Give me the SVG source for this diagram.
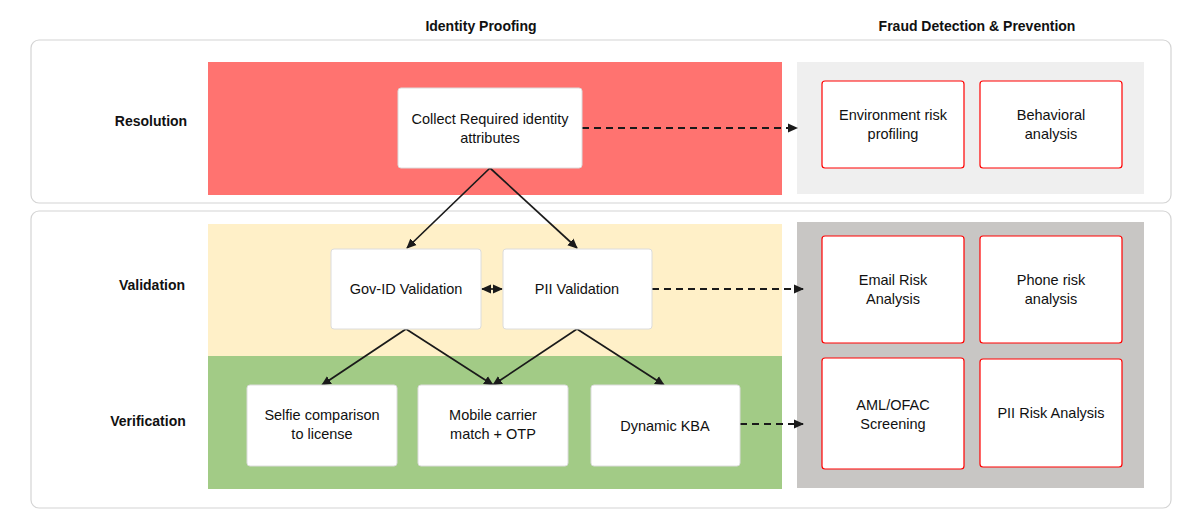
<svg xmlns="http://www.w3.org/2000/svg" width="1185" height="514" viewBox="0 0 1185 514">
<style>
  text { font-family: "Liberation Sans", Arial, sans-serif; font-size: 14.5px; fill: #111; text-anchor: middle; }
  .hdr { font-weight: bold; font-size: 14px; }
  .panel { fill: #fff; stroke: #d4d4d4; stroke-width: 1.2; }
  .node { fill: #fff; stroke: #dcdcdc; stroke-width: 1; }
  .risk { fill: #fff; stroke: #ff0000; stroke-width: 1.2; }
  .solid { fill: none; stroke: #1a1a1a; stroke-width: 1.7; }
  .dash { fill: none; stroke: #1a1a1a; stroke-width: 1.9; stroke-dasharray: 7 5; }
</style>
<defs>
  <marker id="ah" viewBox="0 0 10 10" refX="9" refY="5" markerWidth="10" markerHeight="10" markerUnits="userSpaceOnUse" orient="auto-start-reverse">
    <path d="M0,0.5 L10,5 L0,9.5 Z" fill="#1a1a1a"/>
  </marker>
</defs>

<g id="headers">
  <text class="hdr" x="481" y="31">Identity Proofing</text>
  <text class="hdr" x="977" y="31">Fraud Detection &amp; Prevention</text>
</g>

<g id="panels">
  <rect class="panel" x="31" y="40" width="1140" height="163" rx="8"/>
  <rect class="panel" x="31" y="211" width="1140" height="297" rx="8"/>
  <rect x="208" y="62" width="574" height="133" fill="#ff7370"/>
  <rect x="797" y="62" width="347" height="132" fill="#efefef"/>
  <rect x="208" y="224" width="574" height="132" fill="#fff0c8"/>
  <rect x="208" y="356" width="574" height="133" fill="#a2cb86"/>
  <rect x="797" y="222" width="347" height="266" fill="#c8c6c4"/>
</g>

<g id="row-labels">
  <text class="hdr" x="151" y="126">Resolution</text>
  <text class="hdr" x="152" y="290">Validation</text>
  <text class="hdr" x="148" y="426">Verification</text>
</g>

<g id="connectors">
  <line class="solid" x1="490" y1="168" x2="407" y2="248" marker-end="url(#ah)"/>
  <line class="solid" x1="490" y1="168" x2="577" y2="248" marker-end="url(#ah)"/>
  <line class="solid" x1="406" y1="329" x2="322" y2="385" marker-end="url(#ah)"/>
  <line class="solid" x1="406" y1="329" x2="493" y2="385" marker-end="url(#ah)"/>
  <line class="solid" x1="577" y1="329" x2="493" y2="385" marker-end="url(#ah)"/>
  <line class="solid" x1="577" y1="329" x2="664" y2="385" marker-end="url(#ah)"/>
  <line class="solid" x1="482" y1="289" x2="502" y2="289" marker-start="url(#ah)" marker-end="url(#ah)"/>
  <line class="dash" x1="582" y1="128" x2="797" y2="128" marker-end="url(#ah)"/>
  <line class="dash" x1="652" y1="289" x2="803" y2="289" marker-end="url(#ah)"/>
  <line class="dash" x1="740" y1="424" x2="803" y2="424" marker-end="url(#ah)"/>
</g>

<g id="collect">
  <rect class="node" x="398" y="88" width="184" height="80" rx="3"/>
  <text x="490" y="124">Collect Required identity</text>
  <text x="490" y="143">attributes</text>
</g>
<g id="govid">
  <rect class="node" x="331" y="249" width="150" height="80" rx="3"/>
  <text x="406" y="294">Gov-ID Validation</text>
</g>
<g id="pii">
  <rect class="node" x="503" y="249" width="149" height="80" rx="3"/>
  <text x="577" y="294">PII Validation</text>
</g>
<g id="selfie">
  <rect class="node" x="247" y="385" width="150" height="81" rx="3"/>
  <text x="322" y="420">Selfie comparison</text>
  <text x="322" y="439">to license</text>
</g>
<g id="mobile">
  <rect class="node" x="418" y="385" width="150" height="81" rx="3"/>
  <text x="493" y="420">Mobile carrier</text>
  <text x="493" y="439">match + OTP</text>
</g>
<g id="kba">
  <rect class="node" x="591" y="385" width="149" height="81" rx="3"/>
  <text x="665" y="431">Dynamic KBA</text>
</g>

<g id="env">
  <rect class="risk" x="822" y="81" width="142" height="87" rx="3"/>
  <text x="893" y="120">Environment risk</text>
  <text x="893" y="139">profiling</text>
</g>
<g id="behav">
  <rect class="risk" x="980" y="81" width="142" height="87" rx="3"/>
  <text x="1051" y="120">Behavioral</text>
  <text x="1051" y="139">analysis</text>
</g>
<g id="email">
  <rect class="risk" x="822" y="236" width="142" height="107" rx="3"/>
  <text x="893" y="285">Email Risk</text>
  <text x="893" y="304">Analysis</text>
</g>
<g id="phone">
  <rect class="risk" x="980" y="236" width="142" height="107" rx="3"/>
  <text x="1051" y="285">Phone risk</text>
  <text x="1051" y="304">analysis</text>
</g>
<g id="aml">
  <rect class="risk" x="822" y="358" width="142" height="111" rx="3"/>
  <text x="893" y="410">AML/OFAC</text>
  <text x="893" y="429">Screening</text>
</g>
<g id="piirisk">
  <rect class="risk" x="980" y="359" width="142" height="108" rx="3"/>
  <text x="1051" y="418">PII Risk Analysis</text>
</g>
</svg>
